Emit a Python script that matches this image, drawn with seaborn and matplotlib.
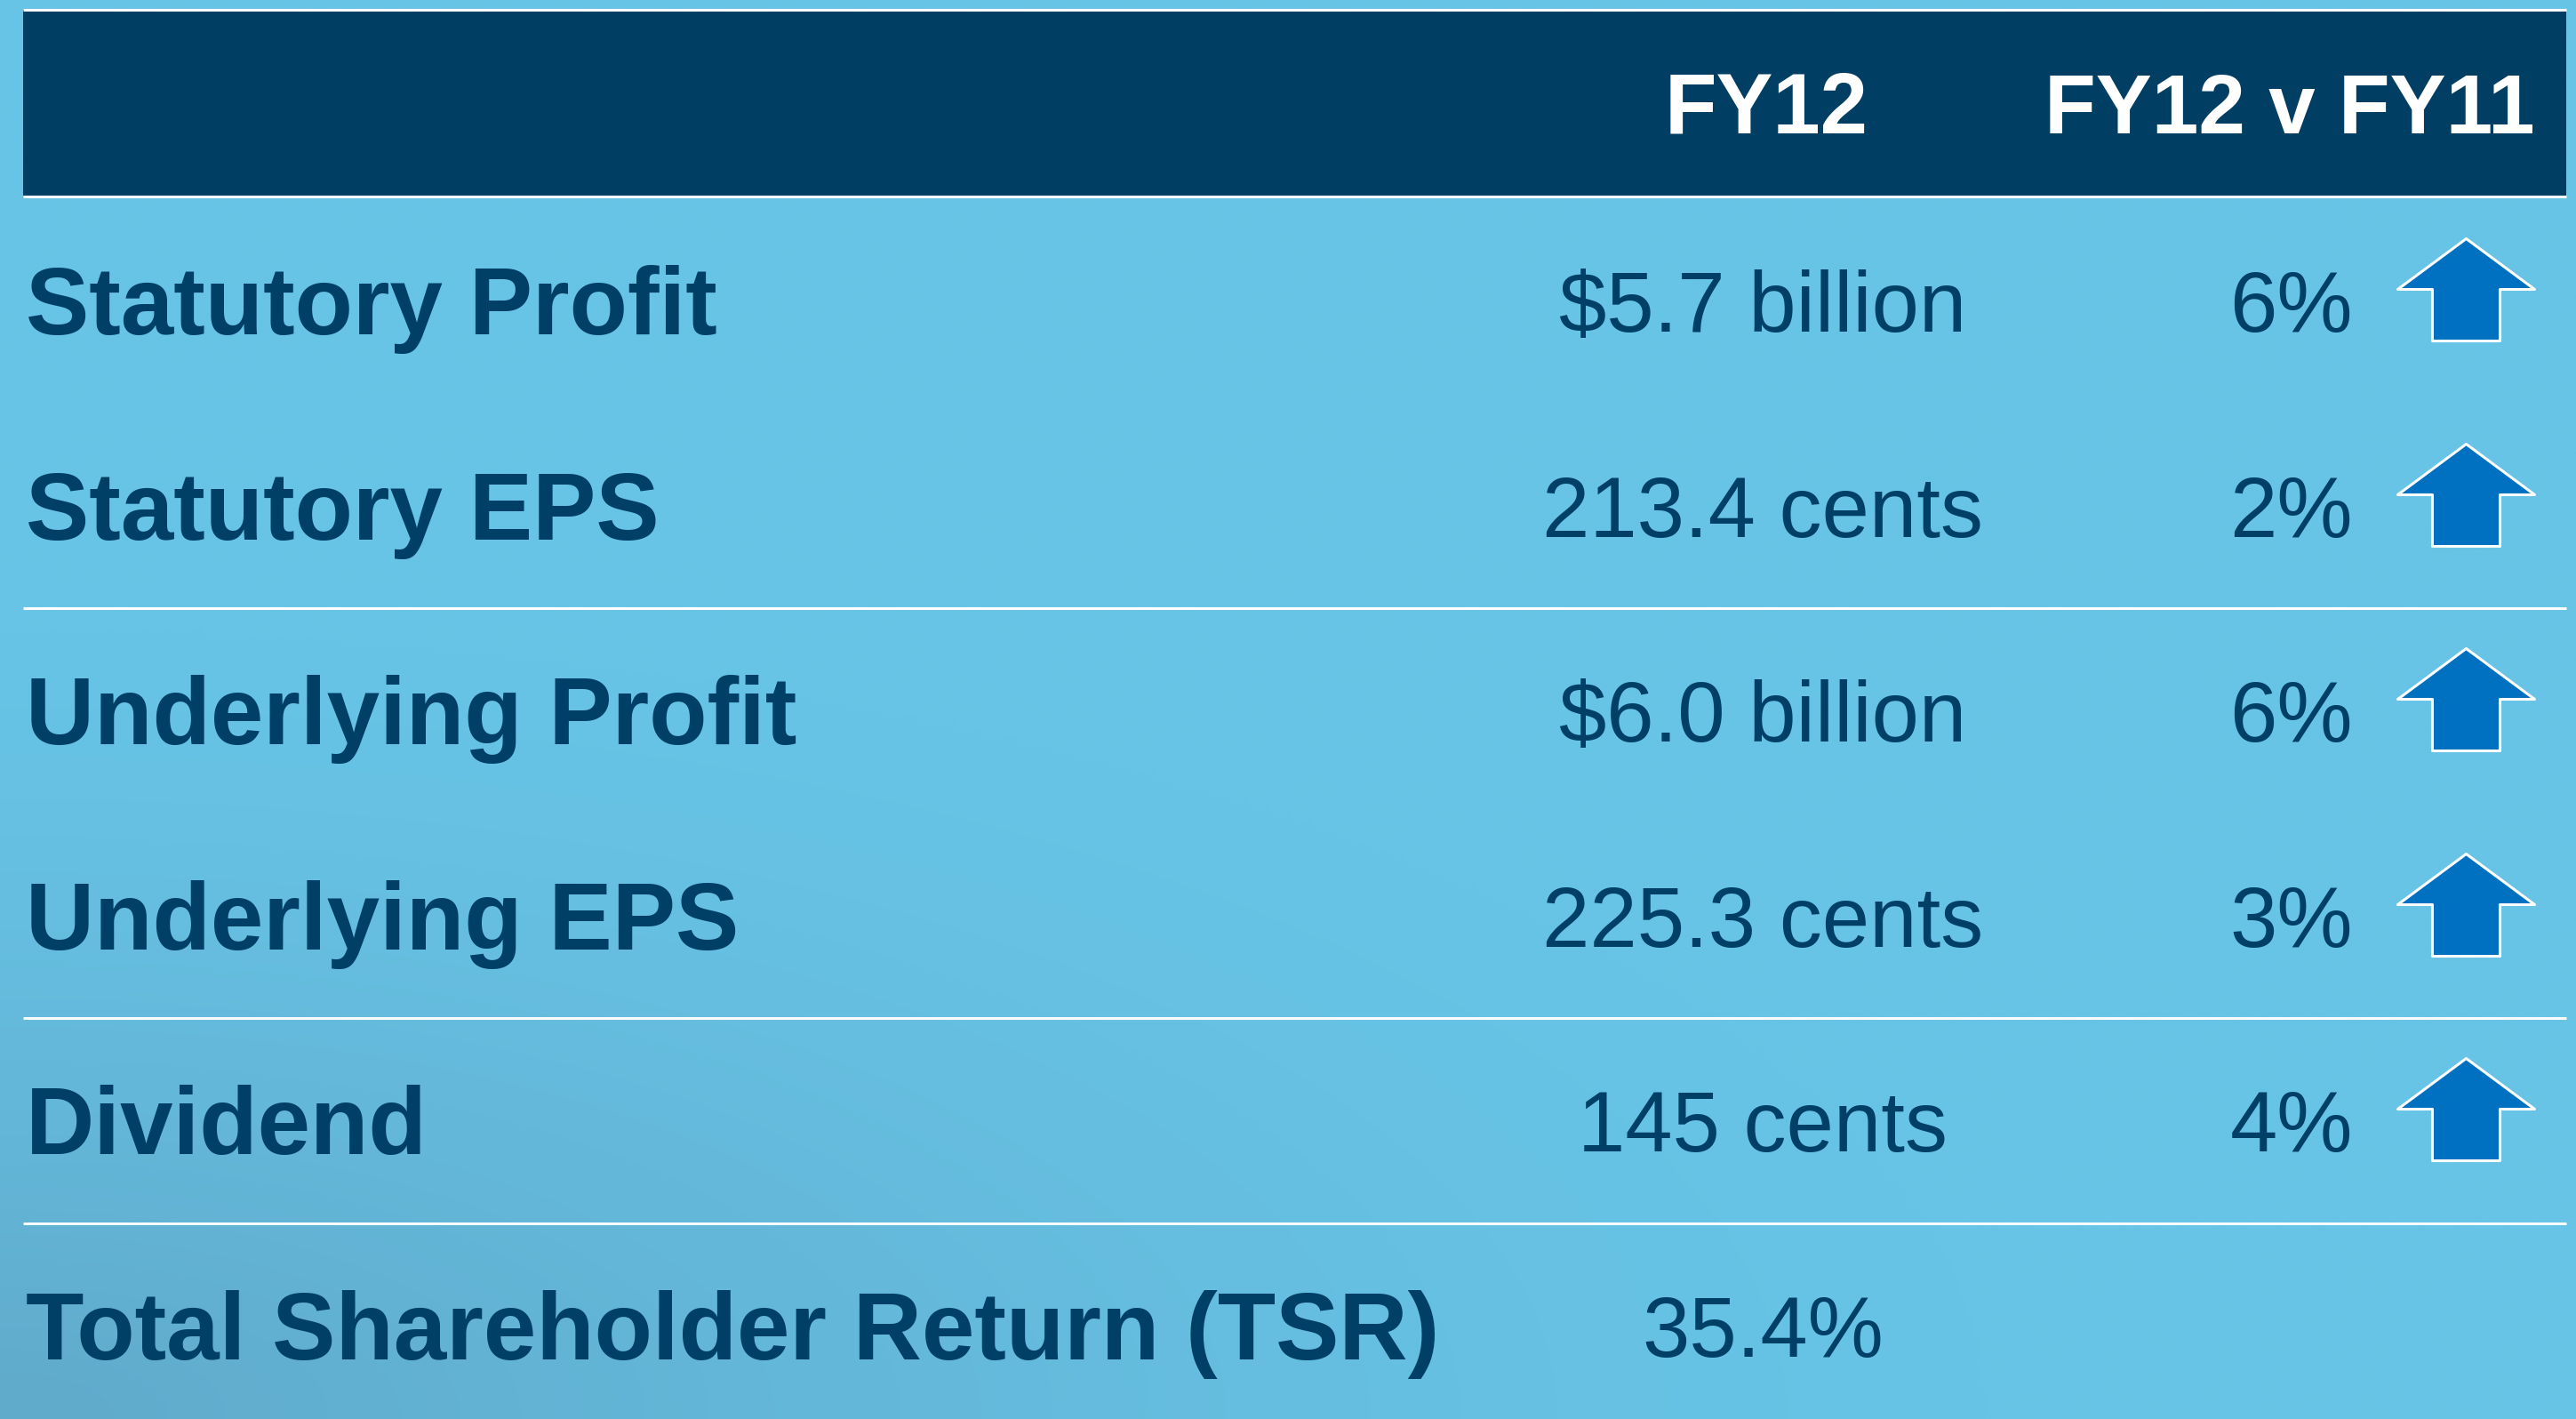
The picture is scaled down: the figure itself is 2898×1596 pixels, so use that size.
import numpy as np
import pandas as pd
import matplotlib.pyplot as plt
import seaborn as sns
from matplotlib.path import Path
from matplotlib.patches import Rectangle
from matplotlib.colors import to_rgb

# Table content
metrics = ["Statutory Profit", "Statutory EPS", "Underlying Profit",
           "Underlying EPS", "Dividend", "Total Shareholder Return (TSR)"]
fy12_values = ["$5.7 billion", "213.4 cents", "$6.0 billion",
               "225.3 cents", "145 cents", "35.4%"]
changes = ["6%", "2%", "6%", "3%", "4%", ""]
direction = ["up", "up", "up", "up", "up", ""]
header_cols = ["FY12", "FY12 v FY11"]
divider_after = [1, 3, 4]

W, H = 2898, 1596
TEXT = "#003f66"
HEAD = "#003f63"
ARROW = "#0070c0"

sns.set_theme(style="white")
plt.rcParams["font.family"] = ["Liberation Sans", "DejaVu Sans"]

fig = plt.figure(figsize=(W / 100, H / 100), dpi=100)
ax = fig.add_axes([0, 0, 1, 1])
ax.set_xlim(0, W)
ax.set_ylim(H, 0)
ax.axis("off")

# background: light blue, a bit greyer toward the bottom-left corner
yy, xx = np.mgrid[0:1:200j, 0:1:360j]
base = np.array(to_rgb("#67c4e6"))
dark = np.array(to_rgb("#60aacb"))
w = np.clip(1 - np.hypot(xx * 1.3, (1 - yy) * 1.8), 0, 1) ** 1.4
img = base * (1 - w[..., None]) + dark * w[..., None]
ax.imshow(img, extent=(0, W, H, 0), aspect="auto", zorder=0, interpolation="bilinear")

# header band
ax.add_patch(Rectangle((26, 11), 2861, 209, fc=HEAD, ec="none", zorder=1))
ax.hlines([11, 221], 26, 2887, color="white", lw=2.2, zorder=2)
ax.text(1987, 150, header_cols[0], fontsize=69, fontweight="bold", color="white",
        ha="center", va="baseline", zorder=3)
ax.text(2852, 150, header_cols[1], fontsize=68, fontweight="bold", color="white",
        ha="right", va="baseline", zorder=3)

df = pd.DataFrame({"metric": metrics, "fy12": fy12_values,
                   "change": changes, "direction": direction})
df["y"] = 338 + 230.6 * np.arange(len(df))

for _, r in df.iterrows():
    ax.text(29, r.y + 38, r.metric, fontsize=77, fontweight="bold", color=TEXT,
            ha="left", va="baseline", zorder=3)
    ax.text(1983, r.y + 35, r.fy12, fontsize=69, color=TEXT,
            ha="center", va="baseline", zorder=3)
    if r.change:
        ax.text(2647, r.y + 35, r.change, fontsize=69, color=TEXT,
                ha="right", va="baseline", zorder=3)

# separator lines
line_y = [(df.y[i] + df.y[i + 1]) / 2 for i in divider_after]
ax.hlines(line_y, 26, 2887, color="white", lw=2.2, zorder=2)

# up arrows as a custom scatter marker
up_arrow = Path([(0, 70), (77, 13), (38, 13), (38, -45), (-38, -45),
                 (-38, 13), (-77, 13), (0, 70)], closed=True)
arrows = df[df.direction == "up"].assign(x=2774)
sns.scatterplot(data=arrows, x="x", y="y", marker=up_arrow, s=12300,
                color=ARROW, edgecolor="white", linewidth=2.2,
                legend=False, ax=ax, zorder=4)
ax.set_xlim(0, W)
ax.set_ylim(H, 0)
ax.set_xlabel("")
ax.set_ylabel("")

fig.savefig("out.png", dpi=100)
